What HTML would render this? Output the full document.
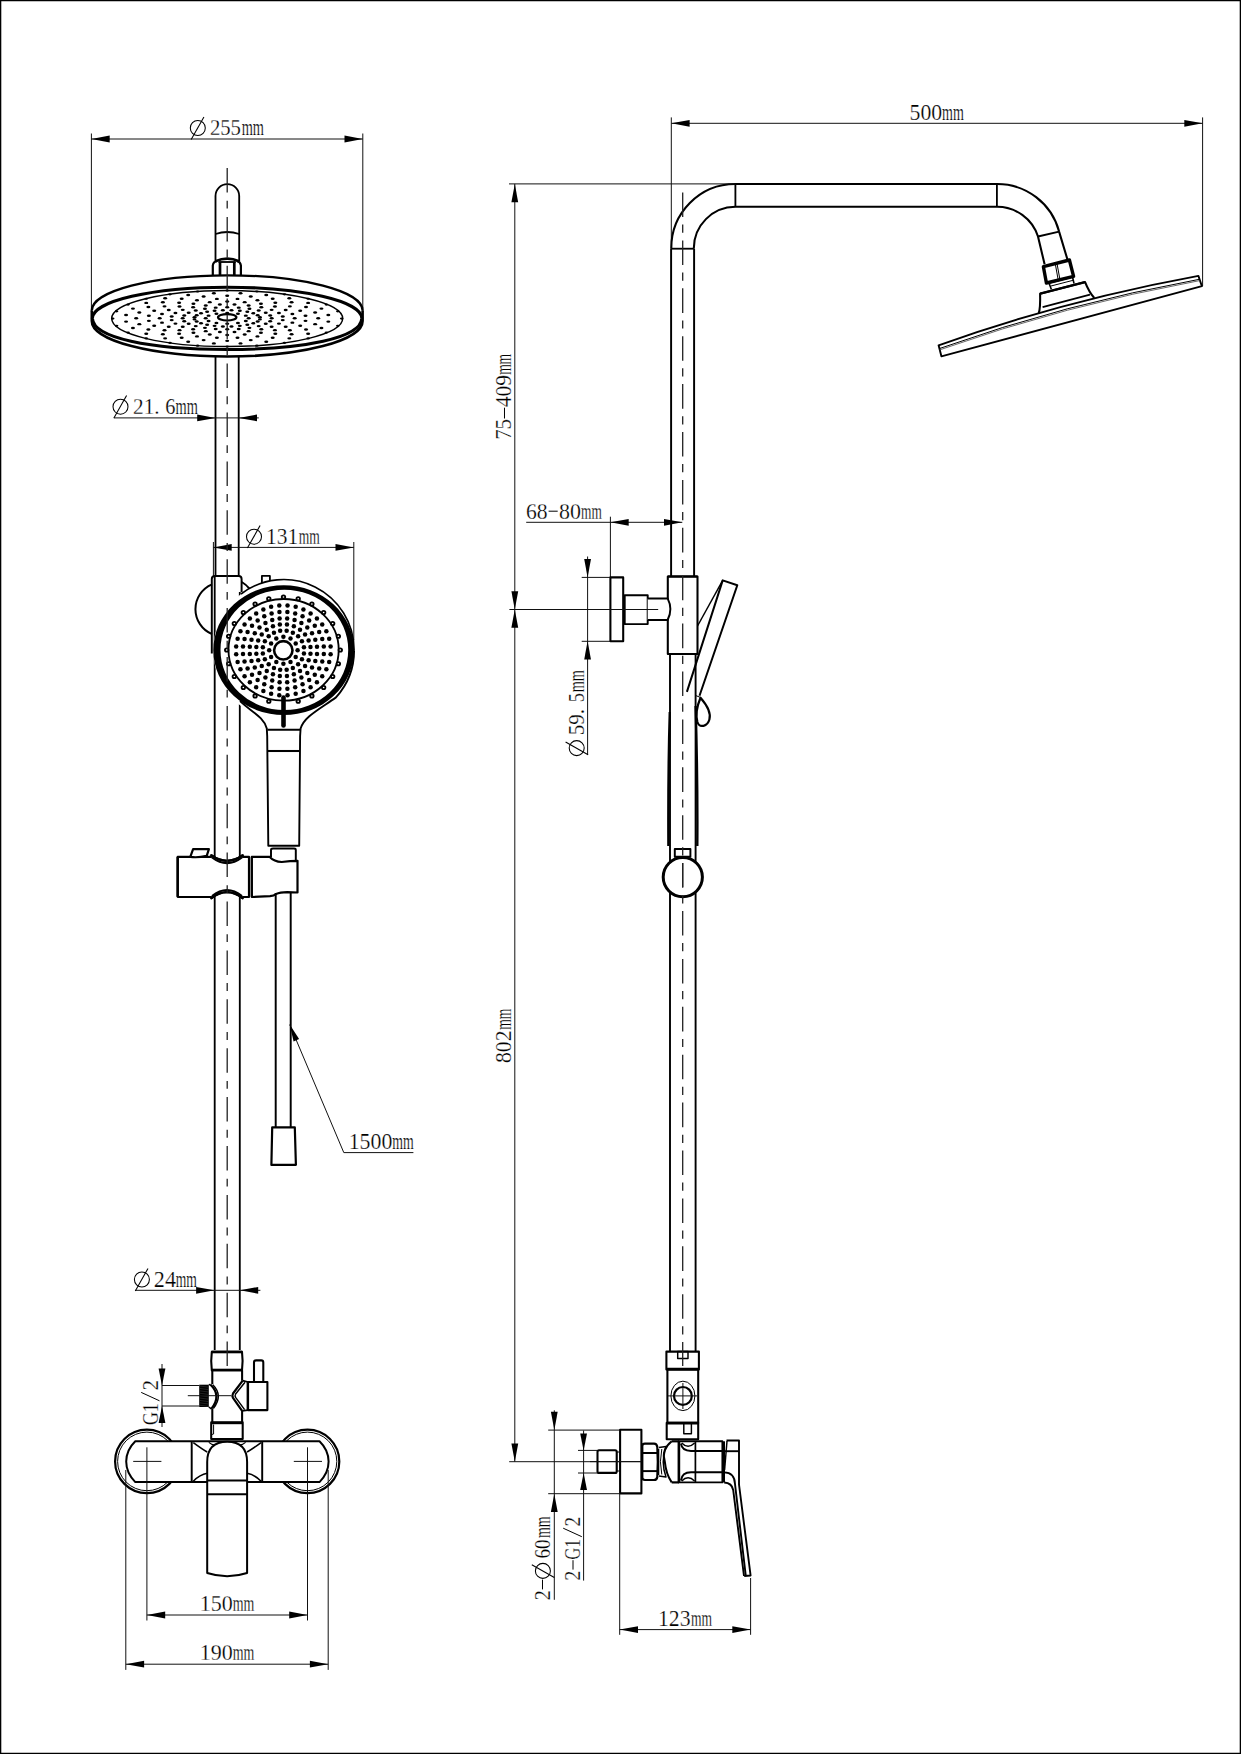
<!DOCTYPE html>
<html><head><meta charset="utf-8"><style>
html,body{margin:0;padding:0;background:#fff;width:1241px;height:1754px;overflow:hidden}
svg{display:block}
text{font-family:"Liberation Serif",serif;fill:#000;stroke:#fff;stroke-width:0.25px}
</style></head><body>
<svg width="1241" height="1754" viewBox="0 0 1241 1754" stroke="#000" fill="none" stroke-linejoin="round">
<rect x="0.6" y="0.6" width="1239.8" height="1752.8" stroke-width="1.4" fill="none"/>
<line x1="91.40" y1="139.00" x2="362.80" y2="139.00" stroke-width="1.0" stroke="#111"/>
<line x1="91.40" y1="133.50" x2="91.40" y2="312.00" stroke-width="1.0" stroke="#111"/>
<line x1="362.80" y1="133.50" x2="362.80" y2="312.00" stroke-width="1.0" stroke="#111"/>
<polygon points="91.40,139.00 109.70,135.60 109.70,142.40" fill="#000" stroke="none"/>
<polygon points="362.80,139.00 344.50,142.40 344.50,135.60" fill="#000" stroke="none"/>
<path d="M215.5,261.5 L215.5,196 A11.85,11.85 0 0 1 239.2,196 L239.2,261.5" stroke-width="1.83" fill="none" />
<path d="M215.5,234 Q227.3,230 239.2,234" stroke-width="1.83" fill="none" />
<path d="M212.8,276 L212.8,265.5 Q213.2,261.8 217,261" stroke-width="2.2" fill="none" />
<path d="M240.9,276 L240.9,265.5 Q240.5,261.8 236.8,261" stroke-width="2.2" fill="none" />
<path d="M215.5,261.2 Q227.3,256.2 239,261.2" stroke-width="2.7" fill="none" />
<line x1="218.50" y1="262.00" x2="235.80" y2="262.00" stroke-width="1.83" />
<line x1="220.00" y1="262.00" x2="220.00" y2="275.00" stroke-width="2.7" />
<line x1="234.30" y1="262.00" x2="234.30" y2="275.00" stroke-width="2.7" />
<path d="M91.8,310.5 A135.4,35.2 0 0 1 362.6,310.5" stroke-width="2.3" fill="none" />
<path d="M91.8,310.5 L91.8,321 A135.4,35.5 0 0 0 362.6,321 L362.6,310.5" stroke-width="2.6" fill="none" />
<path d="M92.4,318.3 A134.6,31.1 0 0 1 361.8,318.3" stroke-width="3.1" fill="none" />
<path d="M92.4,318.3 C93,338 150,349.5 227,349.5 C304,349.5 361.2,338 361.8,318.3" stroke-width="3.1" fill="none" />
<ellipse cx="227.20" cy="318.60" rx="115.50" ry="28.00" stroke-width="1.46" fill="none" />
<ellipse cx="227.20" cy="317.30" rx="9.20" ry="3.20" stroke-width="2.2" fill="none" />
<ellipse cx="248.70" cy="318.30" rx="2.00" ry="1.22" stroke-width="0" fill="#000" stroke="none"/>
<ellipse cx="245.82" cy="320.97" rx="2.00" ry="1.22" stroke-width="0" fill="#000" stroke="none"/>
<ellipse cx="237.95" cy="322.92" rx="2.00" ry="1.22" stroke-width="0" fill="#000" stroke="none"/>
<ellipse cx="227.20" cy="323.63" rx="2.00" ry="1.22" stroke-width="0" fill="#000" stroke="none"/>
<ellipse cx="216.45" cy="322.92" rx="2.00" ry="1.22" stroke-width="0" fill="#000" stroke="none"/>
<ellipse cx="208.58" cy="320.97" rx="2.00" ry="1.22" stroke-width="0" fill="#000" stroke="none"/>
<ellipse cx="205.70" cy="318.30" rx="2.00" ry="1.22" stroke-width="0" fill="#000" stroke="none"/>
<ellipse cx="208.58" cy="315.63" rx="2.00" ry="1.22" stroke-width="0" fill="#000" stroke="none"/>
<ellipse cx="216.45" cy="313.68" rx="2.00" ry="1.22" stroke-width="0" fill="#000" stroke="none"/>
<ellipse cx="227.20" cy="312.97" rx="2.00" ry="1.22" stroke-width="0" fill="#000" stroke="none"/>
<ellipse cx="237.95" cy="313.68" rx="2.00" ry="1.22" stroke-width="0" fill="#000" stroke="none"/>
<ellipse cx="245.82" cy="315.63" rx="2.00" ry="1.22" stroke-width="0" fill="#000" stroke="none"/>
<ellipse cx="259.92" cy="319.37" rx="2.00" ry="1.22" stroke-width="0" fill="#000" stroke="none"/>
<ellipse cx="257.69" cy="321.43" rx="2.00" ry="1.22" stroke-width="0" fill="#000" stroke="none"/>
<ellipse cx="253.38" cy="323.28" rx="2.00" ry="1.22" stroke-width="0" fill="#000" stroke="none"/>
<ellipse cx="247.29" cy="324.79" rx="2.00" ry="1.22" stroke-width="0" fill="#000" stroke="none"/>
<ellipse cx="239.83" cy="325.86" rx="2.00" ry="1.22" stroke-width="0" fill="#000" stroke="none"/>
<ellipse cx="231.51" cy="326.41" rx="2.00" ry="1.22" stroke-width="0" fill="#000" stroke="none"/>
<ellipse cx="222.89" cy="326.41" rx="2.00" ry="1.22" stroke-width="0" fill="#000" stroke="none"/>
<ellipse cx="214.57" cy="325.86" rx="2.00" ry="1.22" stroke-width="0" fill="#000" stroke="none"/>
<ellipse cx="207.11" cy="324.79" rx="2.00" ry="1.22" stroke-width="0" fill="#000" stroke="none"/>
<ellipse cx="201.02" cy="323.28" rx="2.00" ry="1.22" stroke-width="0" fill="#000" stroke="none"/>
<ellipse cx="196.71" cy="321.43" rx="2.00" ry="1.22" stroke-width="0" fill="#000" stroke="none"/>
<ellipse cx="194.48" cy="319.37" rx="2.00" ry="1.22" stroke-width="0" fill="#000" stroke="none"/>
<ellipse cx="194.48" cy="317.23" rx="2.00" ry="1.22" stroke-width="0" fill="#000" stroke="none"/>
<ellipse cx="196.71" cy="315.17" rx="2.00" ry="1.22" stroke-width="0" fill="#000" stroke="none"/>
<ellipse cx="201.02" cy="313.32" rx="2.00" ry="1.22" stroke-width="0" fill="#000" stroke="none"/>
<ellipse cx="207.11" cy="311.81" rx="2.00" ry="1.22" stroke-width="0" fill="#000" stroke="none"/>
<ellipse cx="214.57" cy="310.74" rx="2.00" ry="1.22" stroke-width="0" fill="#000" stroke="none"/>
<ellipse cx="222.89" cy="310.19" rx="2.00" ry="1.22" stroke-width="0" fill="#000" stroke="none"/>
<ellipse cx="231.51" cy="310.19" rx="2.00" ry="1.22" stroke-width="0" fill="#000" stroke="none"/>
<ellipse cx="239.83" cy="310.74" rx="2.00" ry="1.22" stroke-width="0" fill="#000" stroke="none"/>
<ellipse cx="247.29" cy="311.81" rx="2.00" ry="1.22" stroke-width="0" fill="#000" stroke="none"/>
<ellipse cx="253.38" cy="313.32" rx="2.00" ry="1.22" stroke-width="0" fill="#000" stroke="none"/>
<ellipse cx="257.69" cy="315.17" rx="2.00" ry="1.22" stroke-width="0" fill="#000" stroke="none"/>
<ellipse cx="259.92" cy="317.23" rx="2.00" ry="1.22" stroke-width="0" fill="#000" stroke="none"/>
<ellipse cx="271.70" cy="318.30" rx="2.00" ry="1.22" stroke-width="0" fill="#000" stroke="none"/>
<ellipse cx="270.18" cy="321.16" rx="2.00" ry="1.22" stroke-width="0" fill="#000" stroke="none"/>
<ellipse cx="265.74" cy="323.82" rx="2.00" ry="1.22" stroke-width="0" fill="#000" stroke="none"/>
<ellipse cx="258.67" cy="326.10" rx="2.00" ry="1.22" stroke-width="0" fill="#000" stroke="none"/>
<ellipse cx="249.45" cy="327.86" rx="2.00" ry="1.22" stroke-width="0" fill="#000" stroke="none"/>
<ellipse cx="238.72" cy="328.96" rx="2.00" ry="1.22" stroke-width="0" fill="#000" stroke="none"/>
<ellipse cx="227.20" cy="329.34" rx="2.00" ry="1.22" stroke-width="0" fill="#000" stroke="none"/>
<ellipse cx="215.68" cy="328.96" rx="2.00" ry="1.22" stroke-width="0" fill="#000" stroke="none"/>
<ellipse cx="204.95" cy="327.86" rx="2.00" ry="1.22" stroke-width="0" fill="#000" stroke="none"/>
<ellipse cx="195.73" cy="326.10" rx="2.00" ry="1.22" stroke-width="0" fill="#000" stroke="none"/>
<ellipse cx="188.66" cy="323.82" rx="2.00" ry="1.22" stroke-width="0" fill="#000" stroke="none"/>
<ellipse cx="184.22" cy="321.16" rx="2.00" ry="1.22" stroke-width="0" fill="#000" stroke="none"/>
<ellipse cx="182.70" cy="318.30" rx="2.00" ry="1.22" stroke-width="0" fill="#000" stroke="none"/>
<ellipse cx="184.22" cy="315.44" rx="2.00" ry="1.22" stroke-width="0" fill="#000" stroke="none"/>
<ellipse cx="188.66" cy="312.78" rx="2.00" ry="1.22" stroke-width="0" fill="#000" stroke="none"/>
<ellipse cx="195.73" cy="310.50" rx="2.00" ry="1.22" stroke-width="0" fill="#000" stroke="none"/>
<ellipse cx="204.95" cy="308.74" rx="2.00" ry="1.22" stroke-width="0" fill="#000" stroke="none"/>
<ellipse cx="215.68" cy="307.64" rx="2.00" ry="1.22" stroke-width="0" fill="#000" stroke="none"/>
<ellipse cx="227.20" cy="307.26" rx="2.00" ry="1.22" stroke-width="0" fill="#000" stroke="none"/>
<ellipse cx="238.72" cy="307.64" rx="2.00" ry="1.22" stroke-width="0" fill="#000" stroke="none"/>
<ellipse cx="249.45" cy="308.74" rx="2.00" ry="1.22" stroke-width="0" fill="#000" stroke="none"/>
<ellipse cx="258.67" cy="310.50" rx="2.00" ry="1.22" stroke-width="0" fill="#000" stroke="none"/>
<ellipse cx="265.74" cy="312.78" rx="2.00" ry="1.22" stroke-width="0" fill="#000" stroke="none"/>
<ellipse cx="270.18" cy="315.44" rx="2.00" ry="1.22" stroke-width="0" fill="#000" stroke="none"/>
<ellipse cx="282.72" cy="320.11" rx="2.00" ry="1.22" stroke-width="0" fill="#000" stroke="none"/>
<ellipse cx="278.94" cy="323.61" rx="2.00" ry="1.22" stroke-width="0" fill="#000" stroke="none"/>
<ellipse cx="271.63" cy="326.75" rx="2.00" ry="1.22" stroke-width="0" fill="#000" stroke="none"/>
<ellipse cx="261.29" cy="329.32" rx="2.00" ry="1.22" stroke-width="0" fill="#000" stroke="none"/>
<ellipse cx="248.63" cy="331.13" rx="2.00" ry="1.22" stroke-width="0" fill="#000" stroke="none"/>
<ellipse cx="234.51" cy="332.07" rx="2.00" ry="1.22" stroke-width="0" fill="#000" stroke="none"/>
<ellipse cx="219.89" cy="332.07" rx="2.00" ry="1.22" stroke-width="0" fill="#000" stroke="none"/>
<ellipse cx="205.77" cy="331.13" rx="2.00" ry="1.22" stroke-width="0" fill="#000" stroke="none"/>
<ellipse cx="193.11" cy="329.32" rx="2.00" ry="1.22" stroke-width="0" fill="#000" stroke="none"/>
<ellipse cx="182.77" cy="326.75" rx="2.00" ry="1.22" stroke-width="0" fill="#000" stroke="none"/>
<ellipse cx="175.46" cy="323.61" rx="2.00" ry="1.22" stroke-width="0" fill="#000" stroke="none"/>
<ellipse cx="171.68" cy="320.11" rx="2.00" ry="1.22" stroke-width="0" fill="#000" stroke="none"/>
<ellipse cx="171.68" cy="316.49" rx="2.00" ry="1.22" stroke-width="0" fill="#000" stroke="none"/>
<ellipse cx="175.46" cy="312.99" rx="2.00" ry="1.22" stroke-width="0" fill="#000" stroke="none"/>
<ellipse cx="182.77" cy="309.85" rx="2.00" ry="1.22" stroke-width="0" fill="#000" stroke="none"/>
<ellipse cx="193.11" cy="307.28" rx="2.00" ry="1.22" stroke-width="0" fill="#000" stroke="none"/>
<ellipse cx="205.77" cy="305.47" rx="2.00" ry="1.22" stroke-width="0" fill="#000" stroke="none"/>
<ellipse cx="219.89" cy="304.53" rx="2.00" ry="1.22" stroke-width="0" fill="#000" stroke="none"/>
<ellipse cx="234.51" cy="304.53" rx="2.00" ry="1.22" stroke-width="0" fill="#000" stroke="none"/>
<ellipse cx="248.63" cy="305.47" rx="2.00" ry="1.22" stroke-width="0" fill="#000" stroke="none"/>
<ellipse cx="261.29" cy="307.28" rx="2.00" ry="1.22" stroke-width="0" fill="#000" stroke="none"/>
<ellipse cx="271.63" cy="309.85" rx="2.00" ry="1.22" stroke-width="0" fill="#000" stroke="none"/>
<ellipse cx="278.94" cy="312.99" rx="2.00" ry="1.22" stroke-width="0" fill="#000" stroke="none"/>
<ellipse cx="282.72" cy="316.49" rx="2.00" ry="1.22" stroke-width="0" fill="#000" stroke="none"/>
<ellipse cx="294.70" cy="318.30" rx="2.00" ry="1.22" stroke-width="0" fill="#000" stroke="none"/>
<ellipse cx="292.40" cy="322.63" rx="2.00" ry="1.22" stroke-width="0" fill="#000" stroke="none"/>
<ellipse cx="285.66" cy="326.67" rx="2.00" ry="1.22" stroke-width="0" fill="#000" stroke="none"/>
<ellipse cx="274.93" cy="330.14" rx="2.00" ry="1.22" stroke-width="0" fill="#000" stroke="none"/>
<ellipse cx="260.95" cy="332.80" rx="2.00" ry="1.22" stroke-width="0" fill="#000" stroke="none"/>
<ellipse cx="244.67" cy="334.47" rx="2.00" ry="1.22" stroke-width="0" fill="#000" stroke="none"/>
<ellipse cx="227.20" cy="335.04" rx="2.00" ry="1.22" stroke-width="0" fill="#000" stroke="none"/>
<ellipse cx="209.73" cy="334.47" rx="2.00" ry="1.22" stroke-width="0" fill="#000" stroke="none"/>
<ellipse cx="193.45" cy="332.80" rx="2.00" ry="1.22" stroke-width="0" fill="#000" stroke="none"/>
<ellipse cx="179.47" cy="330.14" rx="2.00" ry="1.22" stroke-width="0" fill="#000" stroke="none"/>
<ellipse cx="168.74" cy="326.67" rx="2.00" ry="1.22" stroke-width="0" fill="#000" stroke="none"/>
<ellipse cx="162.00" cy="322.63" rx="2.00" ry="1.22" stroke-width="0" fill="#000" stroke="none"/>
<ellipse cx="159.70" cy="318.30" rx="2.00" ry="1.22" stroke-width="0" fill="#000" stroke="none"/>
<ellipse cx="162.00" cy="313.97" rx="2.00" ry="1.22" stroke-width="0" fill="#000" stroke="none"/>
<ellipse cx="168.74" cy="309.93" rx="2.00" ry="1.22" stroke-width="0" fill="#000" stroke="none"/>
<ellipse cx="179.47" cy="306.46" rx="2.00" ry="1.22" stroke-width="0" fill="#000" stroke="none"/>
<ellipse cx="193.45" cy="303.80" rx="2.00" ry="1.22" stroke-width="0" fill="#000" stroke="none"/>
<ellipse cx="209.73" cy="302.13" rx="2.00" ry="1.22" stroke-width="0" fill="#000" stroke="none"/>
<ellipse cx="227.20" cy="301.56" rx="2.00" ry="1.22" stroke-width="0" fill="#000" stroke="none"/>
<ellipse cx="244.67" cy="302.13" rx="2.00" ry="1.22" stroke-width="0" fill="#000" stroke="none"/>
<ellipse cx="260.95" cy="303.80" rx="2.00" ry="1.22" stroke-width="0" fill="#000" stroke="none"/>
<ellipse cx="274.93" cy="306.46" rx="2.00" ry="1.22" stroke-width="0" fill="#000" stroke="none"/>
<ellipse cx="285.66" cy="309.93" rx="2.00" ry="1.22" stroke-width="0" fill="#000" stroke="none"/>
<ellipse cx="292.40" cy="313.97" rx="2.00" ry="1.22" stroke-width="0" fill="#000" stroke="none"/>
<ellipse cx="305.52" cy="320.86" rx="2.00" ry="1.22" stroke-width="0" fill="#000" stroke="none"/>
<ellipse cx="300.19" cy="325.80" rx="2.00" ry="1.22" stroke-width="0" fill="#000" stroke="none"/>
<ellipse cx="289.87" cy="330.23" rx="2.00" ry="1.22" stroke-width="0" fill="#000" stroke="none"/>
<ellipse cx="275.29" cy="333.84" rx="2.00" ry="1.22" stroke-width="0" fill="#000" stroke="none"/>
<ellipse cx="257.43" cy="336.40" rx="2.00" ry="1.22" stroke-width="0" fill="#000" stroke="none"/>
<ellipse cx="237.51" cy="337.72" rx="2.00" ry="1.22" stroke-width="0" fill="#000" stroke="none"/>
<ellipse cx="216.89" cy="337.72" rx="2.00" ry="1.22" stroke-width="0" fill="#000" stroke="none"/>
<ellipse cx="196.97" cy="336.40" rx="2.00" ry="1.22" stroke-width="0" fill="#000" stroke="none"/>
<ellipse cx="179.11" cy="333.84" rx="2.00" ry="1.22" stroke-width="0" fill="#000" stroke="none"/>
<ellipse cx="164.53" cy="330.23" rx="2.00" ry="1.22" stroke-width="0" fill="#000" stroke="none"/>
<ellipse cx="154.21" cy="325.80" rx="2.00" ry="1.22" stroke-width="0" fill="#000" stroke="none"/>
<ellipse cx="148.88" cy="320.86" rx="2.00" ry="1.22" stroke-width="0" fill="#000" stroke="none"/>
<ellipse cx="148.88" cy="315.74" rx="2.00" ry="1.22" stroke-width="0" fill="#000" stroke="none"/>
<ellipse cx="154.21" cy="310.80" rx="2.00" ry="1.22" stroke-width="0" fill="#000" stroke="none"/>
<ellipse cx="164.53" cy="306.37" rx="2.00" ry="1.22" stroke-width="0" fill="#000" stroke="none"/>
<ellipse cx="179.11" cy="302.76" rx="2.00" ry="1.22" stroke-width="0" fill="#000" stroke="none"/>
<ellipse cx="196.97" cy="300.20" rx="2.00" ry="1.22" stroke-width="0" fill="#000" stroke="none"/>
<ellipse cx="216.89" cy="298.88" rx="2.00" ry="1.22" stroke-width="0" fill="#000" stroke="none"/>
<ellipse cx="237.51" cy="298.88" rx="2.00" ry="1.22" stroke-width="0" fill="#000" stroke="none"/>
<ellipse cx="257.43" cy="300.20" rx="2.00" ry="1.22" stroke-width="0" fill="#000" stroke="none"/>
<ellipse cx="275.29" cy="302.76" rx="2.00" ry="1.22" stroke-width="0" fill="#000" stroke="none"/>
<ellipse cx="289.87" cy="306.37" rx="2.00" ry="1.22" stroke-width="0" fill="#000" stroke="none"/>
<ellipse cx="300.19" cy="310.80" rx="2.00" ry="1.22" stroke-width="0" fill="#000" stroke="none"/>
<ellipse cx="305.52" cy="315.74" rx="2.00" ry="1.22" stroke-width="0" fill="#000" stroke="none"/>
<ellipse cx="318.20" cy="318.30" rx="2.00" ry="1.22" stroke-width="0" fill="#000" stroke="none"/>
<ellipse cx="315.10" cy="324.14" rx="2.00" ry="1.22" stroke-width="0" fill="#000" stroke="none"/>
<ellipse cx="306.01" cy="329.58" rx="2.00" ry="1.22" stroke-width="0" fill="#000" stroke="none"/>
<ellipse cx="291.55" cy="334.26" rx="2.00" ry="1.22" stroke-width="0" fill="#000" stroke="none"/>
<ellipse cx="272.70" cy="337.84" rx="2.00" ry="1.22" stroke-width="0" fill="#000" stroke="none"/>
<ellipse cx="250.75" cy="340.10" rx="2.00" ry="1.22" stroke-width="0" fill="#000" stroke="none"/>
<ellipse cx="227.20" cy="340.87" rx="2.00" ry="1.22" stroke-width="0" fill="#000" stroke="none"/>
<ellipse cx="203.65" cy="340.10" rx="2.00" ry="1.22" stroke-width="0" fill="#000" stroke="none"/>
<ellipse cx="181.70" cy="337.84" rx="2.00" ry="1.22" stroke-width="0" fill="#000" stroke="none"/>
<ellipse cx="162.85" cy="334.26" rx="2.00" ry="1.22" stroke-width="0" fill="#000" stroke="none"/>
<ellipse cx="148.39" cy="329.58" rx="2.00" ry="1.22" stroke-width="0" fill="#000" stroke="none"/>
<ellipse cx="139.30" cy="324.14" rx="2.00" ry="1.22" stroke-width="0" fill="#000" stroke="none"/>
<ellipse cx="136.20" cy="318.30" rx="2.00" ry="1.22" stroke-width="0" fill="#000" stroke="none"/>
<ellipse cx="139.30" cy="312.46" rx="2.00" ry="1.22" stroke-width="0" fill="#000" stroke="none"/>
<ellipse cx="148.39" cy="307.02" rx="2.00" ry="1.22" stroke-width="0" fill="#000" stroke="none"/>
<ellipse cx="162.85" cy="302.34" rx="2.00" ry="1.22" stroke-width="0" fill="#000" stroke="none"/>
<ellipse cx="181.70" cy="298.76" rx="2.00" ry="1.22" stroke-width="0" fill="#000" stroke="none"/>
<ellipse cx="203.65" cy="296.50" rx="2.00" ry="1.22" stroke-width="0" fill="#000" stroke="none"/>
<ellipse cx="227.20" cy="295.73" rx="2.00" ry="1.22" stroke-width="0" fill="#000" stroke="none"/>
<ellipse cx="250.75" cy="296.50" rx="2.00" ry="1.22" stroke-width="0" fill="#000" stroke="none"/>
<ellipse cx="272.70" cy="298.76" rx="2.00" ry="1.22" stroke-width="0" fill="#000" stroke="none"/>
<ellipse cx="291.55" cy="302.34" rx="2.00" ry="1.22" stroke-width="0" fill="#000" stroke="none"/>
<ellipse cx="306.01" cy="307.02" rx="2.00" ry="1.22" stroke-width="0" fill="#000" stroke="none"/>
<ellipse cx="315.10" cy="312.46" rx="2.00" ry="1.22" stroke-width="0" fill="#000" stroke="none"/>
<ellipse cx="328.33" cy="321.60" rx="2.00" ry="1.22" stroke-width="0" fill="#000" stroke="none"/>
<ellipse cx="321.44" cy="327.98" rx="2.00" ry="1.22" stroke-width="0" fill="#000" stroke="none"/>
<ellipse cx="308.12" cy="333.70" rx="2.00" ry="1.22" stroke-width="0" fill="#000" stroke="none"/>
<ellipse cx="289.29" cy="338.37" rx="2.00" ry="1.22" stroke-width="0" fill="#000" stroke="none"/>
<ellipse cx="266.23" cy="341.67" rx="2.00" ry="1.22" stroke-width="0" fill="#000" stroke="none"/>
<ellipse cx="240.51" cy="343.38" rx="2.00" ry="1.22" stroke-width="0" fill="#000" stroke="none"/>
<ellipse cx="213.89" cy="343.38" rx="2.00" ry="1.22" stroke-width="0" fill="#000" stroke="none"/>
<ellipse cx="188.17" cy="341.67" rx="2.00" ry="1.22" stroke-width="0" fill="#000" stroke="none"/>
<ellipse cx="165.11" cy="338.37" rx="2.00" ry="1.22" stroke-width="0" fill="#000" stroke="none"/>
<ellipse cx="146.28" cy="333.70" rx="2.00" ry="1.22" stroke-width="0" fill="#000" stroke="none"/>
<ellipse cx="132.96" cy="327.98" rx="2.00" ry="1.22" stroke-width="0" fill="#000" stroke="none"/>
<ellipse cx="126.07" cy="321.60" rx="2.00" ry="1.22" stroke-width="0" fill="#000" stroke="none"/>
<ellipse cx="126.07" cy="315.00" rx="2.00" ry="1.22" stroke-width="0" fill="#000" stroke="none"/>
<ellipse cx="132.96" cy="308.62" rx="2.00" ry="1.22" stroke-width="0" fill="#000" stroke="none"/>
<ellipse cx="146.28" cy="302.90" rx="2.00" ry="1.22" stroke-width="0" fill="#000" stroke="none"/>
<ellipse cx="165.11" cy="298.23" rx="2.00" ry="1.22" stroke-width="0" fill="#000" stroke="none"/>
<ellipse cx="188.17" cy="294.93" rx="2.00" ry="1.22" stroke-width="0" fill="#000" stroke="none"/>
<ellipse cx="213.89" cy="293.22" rx="2.00" ry="1.22" stroke-width="0" fill="#000" stroke="none"/>
<ellipse cx="240.51" cy="293.22" rx="2.00" ry="1.22" stroke-width="0" fill="#000" stroke="none"/>
<ellipse cx="266.23" cy="294.93" rx="2.00" ry="1.22" stroke-width="0" fill="#000" stroke="none"/>
<ellipse cx="289.29" cy="298.23" rx="2.00" ry="1.22" stroke-width="0" fill="#000" stroke="none"/>
<ellipse cx="308.12" cy="302.90" rx="2.00" ry="1.22" stroke-width="0" fill="#000" stroke="none"/>
<ellipse cx="321.44" cy="308.62" rx="2.00" ry="1.22" stroke-width="0" fill="#000" stroke="none"/>
<ellipse cx="328.33" cy="315.00" rx="2.00" ry="1.22" stroke-width="0" fill="#000" stroke="none"/>
<ellipse cx="341.70" cy="318.60" rx="1.80" ry="1.05" stroke-width="0" fill="#000" stroke="none"/>
<ellipse cx="337.80" cy="325.85" rx="1.80" ry="1.05" stroke-width="0" fill="#000" stroke="none"/>
<ellipse cx="326.36" cy="332.60" rx="1.80" ry="1.05" stroke-width="0" fill="#000" stroke="none"/>
<ellipse cx="308.16" cy="338.40" rx="1.80" ry="1.05" stroke-width="0" fill="#000" stroke="none"/>
<ellipse cx="284.45" cy="342.85" rx="1.80" ry="1.05" stroke-width="0" fill="#000" stroke="none"/>
<ellipse cx="256.83" cy="345.65" rx="1.80" ry="1.05" stroke-width="0" fill="#000" stroke="none"/>
<ellipse cx="227.20" cy="346.60" rx="1.80" ry="1.05" stroke-width="0" fill="#000" stroke="none"/>
<ellipse cx="197.57" cy="345.65" rx="1.80" ry="1.05" stroke-width="0" fill="#000" stroke="none"/>
<ellipse cx="169.95" cy="342.85" rx="1.80" ry="1.05" stroke-width="0" fill="#000" stroke="none"/>
<ellipse cx="146.24" cy="338.40" rx="1.80" ry="1.05" stroke-width="0" fill="#000" stroke="none"/>
<ellipse cx="128.04" cy="332.60" rx="1.80" ry="1.05" stroke-width="0" fill="#000" stroke="none"/>
<ellipse cx="116.60" cy="325.85" rx="1.80" ry="1.05" stroke-width="0" fill="#000" stroke="none"/>
<ellipse cx="112.70" cy="318.60" rx="1.80" ry="1.05" stroke-width="0" fill="#000" stroke="none"/>
<ellipse cx="116.60" cy="311.35" rx="1.80" ry="1.05" stroke-width="0" fill="#000" stroke="none"/>
<ellipse cx="128.04" cy="304.60" rx="1.80" ry="1.05" stroke-width="0" fill="#000" stroke="none"/>
<ellipse cx="146.24" cy="298.80" rx="1.80" ry="1.05" stroke-width="0" fill="#000" stroke="none"/>
<ellipse cx="169.95" cy="294.35" rx="1.80" ry="1.05" stroke-width="0" fill="#000" stroke="none"/>
<ellipse cx="197.57" cy="291.55" rx="1.80" ry="1.05" stroke-width="0" fill="#000" stroke="none"/>
<ellipse cx="227.20" cy="290.60" rx="1.80" ry="1.05" stroke-width="0" fill="#000" stroke="none"/>
<ellipse cx="256.83" cy="291.55" rx="1.80" ry="1.05" stroke-width="0" fill="#000" stroke="none"/>
<ellipse cx="284.45" cy="294.35" rx="1.80" ry="1.05" stroke-width="0" fill="#000" stroke="none"/>
<ellipse cx="308.16" cy="298.80" rx="1.80" ry="1.05" stroke-width="0" fill="#000" stroke="none"/>
<ellipse cx="326.36" cy="304.60" rx="1.80" ry="1.05" stroke-width="0" fill="#000" stroke="none"/>
<ellipse cx="337.80" cy="311.35" rx="1.80" ry="1.05" stroke-width="0" fill="#000" stroke="none"/>
<line x1="215.50" y1="356.00" x2="215.50" y2="576.00" stroke-width="1.83" />
<line x1="238.70" y1="356.00" x2="238.70" y2="576.00" stroke-width="1.83" />
<line x1="113.80" y1="417.90" x2="258.80" y2="417.90" stroke-width="1.0" stroke="#111"/>
<polygon points="215.50,417.90 197.20,421.30 197.20,414.50" fill="#000" stroke="none"/>
<polygon points="238.70,417.90 257.00,414.50 257.00,421.30" fill="#000" stroke="none"/>
<line x1="213.40" y1="547.40" x2="353.80" y2="547.40" stroke-width="1.0" stroke="#111"/>
<line x1="213.40" y1="542.00" x2="213.40" y2="576.00" stroke-width="1.0" stroke="#111"/>
<line x1="353.80" y1="542.00" x2="353.80" y2="640.00" stroke-width="1.0" stroke="#111"/>
<polygon points="213.40,547.40 231.70,544.00 231.70,550.80" fill="#000" stroke="none"/>
<polygon points="353.80,547.40 335.50,550.80 335.50,544.00" fill="#000" stroke="none"/>
<path d="M212,584.3 A27,27 0 0 0 212,634.1" stroke-width="2.0" fill="none" />
<path d="M241.8,582 Q246,584.5 249.8,589" stroke-width="1.95" fill="none" />
<path d="M211.8,653.5 L211.8,579 Q211.8,575.9 215,575.9 L238.6,575.9 Q241.6,575.9 241.6,579 L241.6,592" stroke-width="1.95" fill="none" />
<line x1="214.70" y1="576.00" x2="214.70" y2="1350.00" stroke-width="1.83" />
<line x1="239.80" y1="592.00" x2="239.80" y2="1350.00" stroke-width="1.83" />
<rect x="261.90" y="575.90" width="8.00" height="7.10" rx="0" stroke-width="1.83" fill="none"/>
<path d="M254.2,714.1 C262,720 267.5,724 267.5,736 L267.5,760 L300.1,760 L300.1,736 C300.1,724 305,718 313.2,714.1 A70.4,70.4 0 1 0 254.2,714.1 Z" stroke-width="0" fill="#fff" stroke="none"/>
<path d="M240,701.1 C251,711.5 264,717 266.8,728.5 L267.2,736 L268.3,845.7 L299.2,845.7 L300.1,736 L300.6,728.5 C304,717 318,710 336,697.4 A70.4,70.4 0 0 0 354.1,650.2" stroke-width="1.9" fill="none" />
<path d="M241,594 A70.4,70.4 0 0 1 354.1,650.2" stroke-width="1.59" fill="none" />
<path d="M213.30,650.20 A70.40,64.90 0 1 0 354.10,650.20 A70.40,64.90 0 1 0 213.30,650.20 Z M220.50,649.85 A63.85,60.15 0 1 0 348.20,649.85 A63.85,60.15 0 1 0 220.50,649.85 Z" fill="#000" fill-rule="evenodd" stroke="none"/>
<ellipse cx="283.60" cy="649.80" rx="55.10" ry="50.80" stroke-width="1.83" fill="none" />
<ellipse cx="283.30" cy="650.30" rx="9.20" ry="9.20" stroke-width="2.6" fill="none" />
<ellipse cx="297.60" cy="650.30" rx="2.25" ry="2.25" stroke-width="0" fill="#000" stroke="none"/>
<ellipse cx="295.70" cy="657.04" rx="2.25" ry="2.25" stroke-width="0" fill="#000" stroke="none"/>
<ellipse cx="290.50" cy="661.98" rx="2.25" ry="2.25" stroke-width="0" fill="#000" stroke="none"/>
<ellipse cx="283.40" cy="663.79" rx="2.25" ry="2.25" stroke-width="0" fill="#000" stroke="none"/>
<ellipse cx="276.30" cy="661.98" rx="2.25" ry="2.25" stroke-width="0" fill="#000" stroke="none"/>
<ellipse cx="271.10" cy="657.04" rx="2.25" ry="2.25" stroke-width="0" fill="#000" stroke="none"/>
<ellipse cx="269.20" cy="650.30" rx="2.25" ry="2.25" stroke-width="0" fill="#000" stroke="none"/>
<ellipse cx="271.10" cy="643.55" rx="2.25" ry="2.25" stroke-width="0" fill="#000" stroke="none"/>
<ellipse cx="276.30" cy="638.62" rx="2.25" ry="2.25" stroke-width="0" fill="#000" stroke="none"/>
<ellipse cx="283.40" cy="636.81" rx="2.25" ry="2.25" stroke-width="0" fill="#000" stroke="none"/>
<ellipse cx="290.50" cy="638.62" rx="2.25" ry="2.25" stroke-width="0" fill="#000" stroke="none"/>
<ellipse cx="295.70" cy="643.55" rx="2.25" ry="2.25" stroke-width="0" fill="#000" stroke="none"/>
<ellipse cx="303.94" cy="653.39" rx="2.25" ry="2.25" stroke-width="0" fill="#000" stroke="none"/>
<ellipse cx="301.93" cy="659.27" rx="2.25" ry="2.25" stroke-width="0" fill="#000" stroke="none"/>
<ellipse cx="298.11" cy="664.27" rx="2.25" ry="2.25" stroke-width="0" fill="#000" stroke="none"/>
<ellipse cx="292.84" cy="667.91" rx="2.25" ry="2.25" stroke-width="0" fill="#000" stroke="none"/>
<ellipse cx="286.65" cy="669.82" rx="2.25" ry="2.25" stroke-width="0" fill="#000" stroke="none"/>
<ellipse cx="280.15" cy="669.82" rx="2.25" ry="2.25" stroke-width="0" fill="#000" stroke="none"/>
<ellipse cx="273.96" cy="667.91" rx="2.25" ry="2.25" stroke-width="0" fill="#000" stroke="none"/>
<ellipse cx="268.69" cy="664.27" rx="2.25" ry="2.25" stroke-width="0" fill="#000" stroke="none"/>
<ellipse cx="264.87" cy="659.27" rx="2.25" ry="2.25" stroke-width="0" fill="#000" stroke="none"/>
<ellipse cx="262.86" cy="653.39" rx="2.25" ry="2.25" stroke-width="0" fill="#000" stroke="none"/>
<ellipse cx="262.86" cy="647.21" rx="2.25" ry="2.25" stroke-width="0" fill="#000" stroke="none"/>
<ellipse cx="264.87" cy="641.33" rx="2.25" ry="2.25" stroke-width="0" fill="#000" stroke="none"/>
<ellipse cx="268.69" cy="636.33" rx="2.25" ry="2.25" stroke-width="0" fill="#000" stroke="none"/>
<ellipse cx="273.96" cy="632.69" rx="2.25" ry="2.25" stroke-width="0" fill="#000" stroke="none"/>
<ellipse cx="280.15" cy="630.78" rx="2.25" ry="2.25" stroke-width="0" fill="#000" stroke="none"/>
<ellipse cx="286.65" cy="630.78" rx="2.25" ry="2.25" stroke-width="0" fill="#000" stroke="none"/>
<ellipse cx="292.84" cy="632.69" rx="2.25" ry="2.25" stroke-width="0" fill="#000" stroke="none"/>
<ellipse cx="298.11" cy="636.33" rx="2.25" ry="2.25" stroke-width="0" fill="#000" stroke="none"/>
<ellipse cx="301.93" cy="641.33" rx="2.25" ry="2.25" stroke-width="0" fill="#000" stroke="none"/>
<ellipse cx="303.94" cy="647.21" rx="2.25" ry="2.25" stroke-width="0" fill="#000" stroke="none"/>
<ellipse cx="310.47" cy="653.69" rx="2.25" ry="2.25" stroke-width="0" fill="#000" stroke="none"/>
<ellipse cx="308.62" cy="660.22" rx="2.25" ry="2.25" stroke-width="0" fill="#000" stroke="none"/>
<ellipse cx="305.06" cy="666.09" rx="2.25" ry="2.25" stroke-width="0" fill="#000" stroke="none"/>
<ellipse cx="300.02" cy="670.88" rx="2.25" ry="2.25" stroke-width="0" fill="#000" stroke="none"/>
<ellipse cx="293.85" cy="674.26" rx="2.25" ry="2.25" stroke-width="0" fill="#000" stroke="none"/>
<ellipse cx="286.96" cy="676.01" rx="2.25" ry="2.25" stroke-width="0" fill="#000" stroke="none"/>
<ellipse cx="279.84" cy="676.01" rx="2.25" ry="2.25" stroke-width="0" fill="#000" stroke="none"/>
<ellipse cx="272.95" cy="674.26" rx="2.25" ry="2.25" stroke-width="0" fill="#000" stroke="none"/>
<ellipse cx="266.78" cy="670.88" rx="2.25" ry="2.25" stroke-width="0" fill="#000" stroke="none"/>
<ellipse cx="261.74" cy="666.09" rx="2.25" ry="2.25" stroke-width="0" fill="#000" stroke="none"/>
<ellipse cx="258.18" cy="660.22" rx="2.25" ry="2.25" stroke-width="0" fill="#000" stroke="none"/>
<ellipse cx="256.33" cy="653.69" rx="2.25" ry="2.25" stroke-width="0" fill="#000" stroke="none"/>
<ellipse cx="256.33" cy="646.91" rx="2.25" ry="2.25" stroke-width="0" fill="#000" stroke="none"/>
<ellipse cx="258.18" cy="640.38" rx="2.25" ry="2.25" stroke-width="0" fill="#000" stroke="none"/>
<ellipse cx="261.74" cy="634.51" rx="2.25" ry="2.25" stroke-width="0" fill="#000" stroke="none"/>
<ellipse cx="266.78" cy="629.72" rx="2.25" ry="2.25" stroke-width="0" fill="#000" stroke="none"/>
<ellipse cx="272.95" cy="626.34" rx="2.25" ry="2.25" stroke-width="0" fill="#000" stroke="none"/>
<ellipse cx="279.84" cy="624.59" rx="2.25" ry="2.25" stroke-width="0" fill="#000" stroke="none"/>
<ellipse cx="286.96" cy="624.59" rx="2.25" ry="2.25" stroke-width="0" fill="#000" stroke="none"/>
<ellipse cx="293.85" cy="626.34" rx="2.25" ry="2.25" stroke-width="0" fill="#000" stroke="none"/>
<ellipse cx="300.02" cy="629.72" rx="2.25" ry="2.25" stroke-width="0" fill="#000" stroke="none"/>
<ellipse cx="305.06" cy="634.51" rx="2.25" ry="2.25" stroke-width="0" fill="#000" stroke="none"/>
<ellipse cx="308.62" cy="640.38" rx="2.25" ry="2.25" stroke-width="0" fill="#000" stroke="none"/>
<ellipse cx="310.47" cy="646.91" rx="2.25" ry="2.25" stroke-width="0" fill="#000" stroke="none"/>
<ellipse cx="316.99" cy="653.90" rx="2.25" ry="2.25" stroke-width="0" fill="#000" stroke="none"/>
<ellipse cx="315.30" cy="660.91" rx="2.25" ry="2.25" stroke-width="0" fill="#000" stroke="none"/>
<ellipse cx="312.02" cy="667.38" rx="2.25" ry="2.25" stroke-width="0" fill="#000" stroke="none"/>
<ellipse cx="307.30" cy="673.01" rx="2.25" ry="2.25" stroke-width="0" fill="#000" stroke="none"/>
<ellipse cx="301.38" cy="677.49" rx="2.25" ry="2.25" stroke-width="0" fill="#000" stroke="none"/>
<ellipse cx="294.56" cy="680.61" rx="2.25" ry="2.25" stroke-width="0" fill="#000" stroke="none"/>
<ellipse cx="287.18" cy="682.21" rx="2.25" ry="2.25" stroke-width="0" fill="#000" stroke="none"/>
<ellipse cx="279.62" cy="682.21" rx="2.25" ry="2.25" stroke-width="0" fill="#000" stroke="none"/>
<ellipse cx="272.24" cy="680.61" rx="2.25" ry="2.25" stroke-width="0" fill="#000" stroke="none"/>
<ellipse cx="265.42" cy="677.49" rx="2.25" ry="2.25" stroke-width="0" fill="#000" stroke="none"/>
<ellipse cx="259.50" cy="673.01" rx="2.25" ry="2.25" stroke-width="0" fill="#000" stroke="none"/>
<ellipse cx="254.78" cy="667.38" rx="2.25" ry="2.25" stroke-width="0" fill="#000" stroke="none"/>
<ellipse cx="251.50" cy="660.91" rx="2.25" ry="2.25" stroke-width="0" fill="#000" stroke="none"/>
<ellipse cx="249.81" cy="653.90" rx="2.25" ry="2.25" stroke-width="0" fill="#000" stroke="none"/>
<ellipse cx="249.81" cy="646.70" rx="2.25" ry="2.25" stroke-width="0" fill="#000" stroke="none"/>
<ellipse cx="251.50" cy="639.69" rx="2.25" ry="2.25" stroke-width="0" fill="#000" stroke="none"/>
<ellipse cx="254.78" cy="633.22" rx="2.25" ry="2.25" stroke-width="0" fill="#000" stroke="none"/>
<ellipse cx="259.50" cy="627.59" rx="2.25" ry="2.25" stroke-width="0" fill="#000" stroke="none"/>
<ellipse cx="265.42" cy="623.11" rx="2.25" ry="2.25" stroke-width="0" fill="#000" stroke="none"/>
<ellipse cx="272.24" cy="619.99" rx="2.25" ry="2.25" stroke-width="0" fill="#000" stroke="none"/>
<ellipse cx="279.62" cy="618.39" rx="2.25" ry="2.25" stroke-width="0" fill="#000" stroke="none"/>
<ellipse cx="287.18" cy="618.39" rx="2.25" ry="2.25" stroke-width="0" fill="#000" stroke="none"/>
<ellipse cx="294.56" cy="619.99" rx="2.25" ry="2.25" stroke-width="0" fill="#000" stroke="none"/>
<ellipse cx="301.38" cy="623.11" rx="2.25" ry="2.25" stroke-width="0" fill="#000" stroke="none"/>
<ellipse cx="307.30" cy="627.59" rx="2.25" ry="2.25" stroke-width="0" fill="#000" stroke="none"/>
<ellipse cx="312.02" cy="633.22" rx="2.25" ry="2.25" stroke-width="0" fill="#000" stroke="none"/>
<ellipse cx="315.30" cy="639.69" rx="2.25" ry="2.25" stroke-width="0" fill="#000" stroke="none"/>
<ellipse cx="316.99" cy="646.70" rx="2.25" ry="2.25" stroke-width="0" fill="#000" stroke="none"/>
<ellipse cx="323.80" cy="654.08" rx="2.25" ry="2.25" stroke-width="0" fill="#000" stroke="none"/>
<ellipse cx="322.25" cy="661.50" rx="2.25" ry="2.25" stroke-width="0" fill="#000" stroke="none"/>
<ellipse cx="319.21" cy="668.48" rx="2.25" ry="2.25" stroke-width="0" fill="#000" stroke="none"/>
<ellipse cx="314.78" cy="674.77" rx="2.25" ry="2.25" stroke-width="0" fill="#000" stroke="none"/>
<ellipse cx="309.16" cy="680.12" rx="2.25" ry="2.25" stroke-width="0" fill="#000" stroke="none"/>
<ellipse cx="302.54" cy="684.32" rx="2.25" ry="2.25" stroke-width="0" fill="#000" stroke="none"/>
<ellipse cx="295.19" cy="687.21" rx="2.25" ry="2.25" stroke-width="0" fill="#000" stroke="none"/>
<ellipse cx="287.38" cy="688.68" rx="2.25" ry="2.25" stroke-width="0" fill="#000" stroke="none"/>
<ellipse cx="279.42" cy="688.68" rx="2.25" ry="2.25" stroke-width="0" fill="#000" stroke="none"/>
<ellipse cx="271.61" cy="687.21" rx="2.25" ry="2.25" stroke-width="0" fill="#000" stroke="none"/>
<ellipse cx="264.26" cy="684.32" rx="2.25" ry="2.25" stroke-width="0" fill="#000" stroke="none"/>
<ellipse cx="257.64" cy="680.12" rx="2.25" ry="2.25" stroke-width="0" fill="#000" stroke="none"/>
<ellipse cx="252.02" cy="674.77" rx="2.25" ry="2.25" stroke-width="0" fill="#000" stroke="none"/>
<ellipse cx="247.59" cy="668.48" rx="2.25" ry="2.25" stroke-width="0" fill="#000" stroke="none"/>
<ellipse cx="244.55" cy="661.50" rx="2.25" ry="2.25" stroke-width="0" fill="#000" stroke="none"/>
<ellipse cx="243.00" cy="654.08" rx="2.25" ry="2.25" stroke-width="0" fill="#000" stroke="none"/>
<ellipse cx="243.00" cy="646.52" rx="2.25" ry="2.25" stroke-width="0" fill="#000" stroke="none"/>
<ellipse cx="244.55" cy="639.10" rx="2.25" ry="2.25" stroke-width="0" fill="#000" stroke="none"/>
<ellipse cx="247.59" cy="632.12" rx="2.25" ry="2.25" stroke-width="0" fill="#000" stroke="none"/>
<ellipse cx="252.02" cy="625.83" rx="2.25" ry="2.25" stroke-width="0" fill="#000" stroke="none"/>
<ellipse cx="257.64" cy="620.48" rx="2.25" ry="2.25" stroke-width="0" fill="#000" stroke="none"/>
<ellipse cx="264.26" cy="616.28" rx="2.25" ry="2.25" stroke-width="0" fill="#000" stroke="none"/>
<ellipse cx="271.61" cy="613.39" rx="2.25" ry="2.25" stroke-width="0" fill="#000" stroke="none"/>
<ellipse cx="279.42" cy="611.92" rx="2.25" ry="2.25" stroke-width="0" fill="#000" stroke="none"/>
<ellipse cx="287.38" cy="611.92" rx="2.25" ry="2.25" stroke-width="0" fill="#000" stroke="none"/>
<ellipse cx="295.19" cy="613.39" rx="2.25" ry="2.25" stroke-width="0" fill="#000" stroke="none"/>
<ellipse cx="302.54" cy="616.28" rx="2.25" ry="2.25" stroke-width="0" fill="#000" stroke="none"/>
<ellipse cx="309.16" cy="620.48" rx="2.25" ry="2.25" stroke-width="0" fill="#000" stroke="none"/>
<ellipse cx="314.78" cy="625.83" rx="2.25" ry="2.25" stroke-width="0" fill="#000" stroke="none"/>
<ellipse cx="319.21" cy="632.12" rx="2.25" ry="2.25" stroke-width="0" fill="#000" stroke="none"/>
<ellipse cx="322.25" cy="639.10" rx="2.25" ry="2.25" stroke-width="0" fill="#000" stroke="none"/>
<ellipse cx="323.80" cy="646.52" rx="2.25" ry="2.25" stroke-width="0" fill="#000" stroke="none"/>
<ellipse cx="330.62" cy="654.22" rx="2.25" ry="2.25" stroke-width="0" fill="#000" stroke="none"/>
<ellipse cx="329.18" cy="661.95" rx="2.25" ry="2.25" stroke-width="0" fill="#000" stroke="none"/>
<ellipse cx="326.36" cy="669.33" rx="2.25" ry="2.25" stroke-width="0" fill="#000" stroke="none"/>
<ellipse cx="322.23" cy="676.13" rx="2.25" ry="2.25" stroke-width="0" fill="#000" stroke="none"/>
<ellipse cx="316.92" cy="682.14" rx="2.25" ry="2.25" stroke-width="0" fill="#000" stroke="none"/>
<ellipse cx="310.59" cy="687.19" rx="2.25" ry="2.25" stroke-width="0" fill="#000" stroke="none"/>
<ellipse cx="303.43" cy="691.11" rx="2.25" ry="2.25" stroke-width="0" fill="#000" stroke="none"/>
<ellipse cx="295.67" cy="693.80" rx="2.25" ry="2.25" stroke-width="0" fill="#000" stroke="none"/>
<ellipse cx="287.53" cy="695.16" rx="2.25" ry="2.25" stroke-width="0" fill="#000" stroke="none"/>
<ellipse cx="279.27" cy="695.16" rx="2.25" ry="2.25" stroke-width="0" fill="#000" stroke="none"/>
<ellipse cx="271.13" cy="693.80" rx="2.25" ry="2.25" stroke-width="0" fill="#000" stroke="none"/>
<ellipse cx="263.37" cy="691.11" rx="2.25" ry="2.25" stroke-width="0" fill="#000" stroke="none"/>
<ellipse cx="256.21" cy="687.19" rx="2.25" ry="2.25" stroke-width="0" fill="#000" stroke="none"/>
<ellipse cx="249.88" cy="682.14" rx="2.25" ry="2.25" stroke-width="0" fill="#000" stroke="none"/>
<ellipse cx="244.57" cy="676.13" rx="2.25" ry="2.25" stroke-width="0" fill="#000" stroke="none"/>
<ellipse cx="240.44" cy="669.33" rx="2.25" ry="2.25" stroke-width="0" fill="#000" stroke="none"/>
<ellipse cx="237.62" cy="661.95" rx="2.25" ry="2.25" stroke-width="0" fill="#000" stroke="none"/>
<ellipse cx="236.18" cy="654.22" rx="2.25" ry="2.25" stroke-width="0" fill="#000" stroke="none"/>
<ellipse cx="236.18" cy="646.38" rx="2.25" ry="2.25" stroke-width="0" fill="#000" stroke="none"/>
<ellipse cx="237.62" cy="638.65" rx="2.25" ry="2.25" stroke-width="0" fill="#000" stroke="none"/>
<ellipse cx="240.44" cy="631.27" rx="2.25" ry="2.25" stroke-width="0" fill="#000" stroke="none"/>
<ellipse cx="244.57" cy="624.47" rx="2.25" ry="2.25" stroke-width="0" fill="#000" stroke="none"/>
<ellipse cx="249.88" cy="618.46" rx="2.25" ry="2.25" stroke-width="0" fill="#000" stroke="none"/>
<ellipse cx="256.21" cy="613.41" rx="2.25" ry="2.25" stroke-width="0" fill="#000" stroke="none"/>
<ellipse cx="263.37" cy="609.49" rx="2.25" ry="2.25" stroke-width="0" fill="#000" stroke="none"/>
<ellipse cx="271.13" cy="606.80" rx="2.25" ry="2.25" stroke-width="0" fill="#000" stroke="none"/>
<ellipse cx="279.27" cy="605.44" rx="2.25" ry="2.25" stroke-width="0" fill="#000" stroke="none"/>
<ellipse cx="287.53" cy="605.44" rx="2.25" ry="2.25" stroke-width="0" fill="#000" stroke="none"/>
<ellipse cx="295.67" cy="606.80" rx="2.25" ry="2.25" stroke-width="0" fill="#000" stroke="none"/>
<ellipse cx="303.43" cy="609.49" rx="2.25" ry="2.25" stroke-width="0" fill="#000" stroke="none"/>
<ellipse cx="310.59" cy="613.41" rx="2.25" ry="2.25" stroke-width="0" fill="#000" stroke="none"/>
<ellipse cx="316.92" cy="618.46" rx="2.25" ry="2.25" stroke-width="0" fill="#000" stroke="none"/>
<ellipse cx="322.23" cy="624.47" rx="2.25" ry="2.25" stroke-width="0" fill="#000" stroke="none"/>
<ellipse cx="326.36" cy="631.27" rx="2.25" ry="2.25" stroke-width="0" fill="#000" stroke="none"/>
<ellipse cx="329.18" cy="638.65" rx="2.25" ry="2.25" stroke-width="0" fill="#000" stroke="none"/>
<ellipse cx="330.62" cy="646.38" rx="2.25" ry="2.25" stroke-width="0" fill="#000" stroke="none"/>
<ellipse cx="340.30" cy="650.00" rx="1.75" ry="1.65" stroke-width="1.83" fill="#fff" />
<ellipse cx="338.36" cy="663.72" rx="1.75" ry="1.65" stroke-width="1.83" fill="#fff" />
<ellipse cx="332.69" cy="676.50" rx="1.75" ry="1.65" stroke-width="1.83" fill="#fff" />
<ellipse cx="323.66" cy="687.48" rx="1.75" ry="1.65" stroke-width="1.83" fill="#fff" />
<ellipse cx="311.90" cy="695.90" rx="1.75" ry="1.65" stroke-width="1.83" fill="#fff" />
<ellipse cx="298.20" cy="701.19" rx="1.75" ry="1.65" stroke-width="1.83" fill="#fff" />
<ellipse cx="268.80" cy="701.19" rx="1.75" ry="1.65" stroke-width="1.83" fill="#fff" />
<ellipse cx="255.10" cy="695.90" rx="1.75" ry="1.65" stroke-width="1.83" fill="#fff" />
<ellipse cx="243.34" cy="687.48" rx="1.75" ry="1.65" stroke-width="1.83" fill="#fff" />
<ellipse cx="234.31" cy="676.50" rx="1.75" ry="1.65" stroke-width="1.83" fill="#fff" />
<ellipse cx="228.64" cy="663.72" rx="1.75" ry="1.65" stroke-width="1.83" fill="#fff" />
<ellipse cx="226.70" cy="650.00" rx="1.75" ry="1.65" stroke-width="1.83" fill="#fff" />
<ellipse cx="228.64" cy="636.28" rx="1.75" ry="1.65" stroke-width="1.83" fill="#fff" />
<ellipse cx="234.31" cy="623.50" rx="1.75" ry="1.65" stroke-width="1.83" fill="#fff" />
<ellipse cx="243.34" cy="612.52" rx="1.75" ry="1.65" stroke-width="1.83" fill="#fff" />
<ellipse cx="255.10" cy="604.10" rx="1.75" ry="1.65" stroke-width="1.83" fill="#fff" />
<ellipse cx="268.80" cy="598.81" rx="1.75" ry="1.65" stroke-width="1.83" fill="#fff" />
<ellipse cx="283.50" cy="597.00" rx="1.75" ry="1.65" stroke-width="1.83" fill="#fff" />
<ellipse cx="298.20" cy="598.81" rx="1.75" ry="1.65" stroke-width="1.83" fill="#fff" />
<ellipse cx="311.90" cy="604.10" rx="1.75" ry="1.65" stroke-width="1.83" fill="#fff" />
<ellipse cx="323.66" cy="612.52" rx="1.75" ry="1.65" stroke-width="1.83" fill="#fff" />
<ellipse cx="332.69" cy="623.50" rx="1.75" ry="1.65" stroke-width="1.83" fill="#fff" />
<ellipse cx="338.36" cy="636.28" rx="1.75" ry="1.65" stroke-width="1.83" fill="#fff" />
<line x1="283.50" y1="697.50" x2="283.50" y2="725.50" stroke-width="4.6" stroke-linecap="round"/>
<line x1="267.50" y1="729.80" x2="300.10" y2="729.80" stroke-width="2.07" />
<line x1="268.00" y1="751.00" x2="299.80" y2="751.00" stroke-width="2.07" />
<path d="M177.7,896.8 L177.7,856.9 L211.2,856.9 L211.2,855.2 Q227,866.5 242.8,855.2 L242.8,856.9 L249,856.9 L249,897 L242.8,897 L242.8,898.3 Q227,886 211.2,898.3 L211.2,897 Z" stroke-width="2.2" fill="#fff" />
<path d="M177.7,856.9 L177.7,896.8" stroke-width="2.4" fill="none" />
<path d="M211.2,855.2 Q227,866.5 242.8,855.2" stroke-width="2.2" fill="none" />
<path d="M212,857.5 Q227,868.8 242,857.5" stroke-width="2.0" fill="none" />
<path d="M211.2,898.3 Q227,886 242.8,898.3" stroke-width="2.2" fill="none" />
<path d="M212,896 Q227,884 242,896" stroke-width="2.0" fill="none" />
<path d="M190.3,856.9 L193.1,849.2 L208.9,849.2 L206.7,855.8 Q198,858 190.3,856.9" stroke-width="2.2" fill="#fff" />
<path d="M251.8,856.9 L269.8,856.9 Q274,861.5 281.7,862 Q287,861.5 290,861.2 L297.5,860.9 L297.5,892.5 L287.3,892.2 Q280,892.5 276,894 Q274,895.8 270,896.2 L251.8,897 Z" stroke-width="2.2" fill="#fff" />
<line x1="249.00" y1="856.90" x2="249.00" y2="897.00" stroke-width="1.83" />
<line x1="251.80" y1="856.90" x2="251.80" y2="897.00" stroke-width="1.83" />
<path d="M271,856.9 L271,850 Q271,848.5 273,848.5 L294,848.5 Q295.8,848.5 295.8,850 L295.8,860.9" stroke-width="1.95" fill="none" />
<line x1="275.70" y1="893.00" x2="275.70" y2="1127.30" stroke-width="1.95" />
<line x1="290.70" y1="893.00" x2="290.70" y2="1127.30" stroke-width="1.95" />
<polygon points="272.20,1127.30 294.80,1127.30 295.90,1164.90 271.40,1164.90" stroke-width="2.2" fill="none" />
<line x1="343.80" y1="1152.60" x2="413.40" y2="1152.60" stroke-width="1.0" stroke="#111"/>
<line x1="343.80" y1="1152.60" x2="289.70" y2="1024.60" stroke-width="1.0" stroke="#111"/>
<polygon points="289.70,1024.60 299.11,1039.08 293.58,1041.42" fill="#000" stroke="none"/>
<line x1="135.10" y1="1290.30" x2="260.40" y2="1290.30" stroke-width="1.0" stroke="#111"/>
<polygon points="214.40,1290.30 196.10,1293.70 196.10,1286.90" fill="#000" stroke="none"/>
<polygon points="239.90,1290.30 258.20,1286.90 258.20,1293.70" fill="#000" stroke="none"/>
<path d="M211.8,1351.8 L242,1351.8 Q243.2,1361 242,1370.3 L211.8,1370.3 Q210.6,1361 211.8,1351.8 Z" stroke-width="2.07" fill="#fff" />
<line x1="211.50" y1="1352.00" x2="242.30" y2="1352.00" stroke-width="2.6" />
<line x1="211.50" y1="1370.00" x2="242.30" y2="1370.00" stroke-width="2.6" />
<line x1="212.30" y1="1370.30" x2="212.30" y2="1384.20" stroke-width="2.07" />
<line x1="242.10" y1="1370.30" x2="242.10" y2="1380.60" stroke-width="2.07" />
<line x1="212.30" y1="1408.90" x2="212.30" y2="1422.40" stroke-width="2.07" />
<line x1="242.10" y1="1410.80" x2="242.10" y2="1422.40" stroke-width="2.07" />
<path d="M210.3,1384.5 Q222.1,1395.7 211.3,1408.9" stroke-width="2.2" fill="none" />
<path d="M212.8,1384.8 Q223.6,1395.7 213.3,1408.5" stroke-width="1.46" fill="none" />
<path d="M242.7,1380.6 L233,1393.5 Q231.8,1395.7 233,1397.9 L242.1,1410.8" stroke-width="2.2" fill="none" />
<path d="M245,1382.2 L235.6,1394 Q234.6,1395.7 235.6,1397.4 L244.6,1409.6" stroke-width="1.46" fill="none" />
<rect x="199.2" y="1384.7" width="9.6" height="22.3" fill="#000" stroke="none"/>
<line x1="199.5" y1="1386.0" x2="208.5" y2="1387.2" stroke="#444" stroke-width="0.5"/>
<line x1="199.5" y1="1388.4" x2="208.5" y2="1389.6" stroke="#444" stroke-width="0.5"/>
<line x1="199.5" y1="1390.8" x2="208.5" y2="1392.0" stroke="#444" stroke-width="0.5"/>
<line x1="199.5" y1="1393.2" x2="208.5" y2="1394.4" stroke="#444" stroke-width="0.5"/>
<line x1="199.5" y1="1395.6" x2="208.5" y2="1396.8" stroke="#444" stroke-width="0.5"/>
<line x1="199.5" y1="1398.0" x2="208.5" y2="1399.2" stroke="#444" stroke-width="0.5"/>
<line x1="199.5" y1="1400.4" x2="208.5" y2="1401.6" stroke="#444" stroke-width="0.5"/>
<line x1="199.5" y1="1402.8" x2="208.5" y2="1404.0" stroke="#444" stroke-width="0.5"/>
<line x1="199.5" y1="1405.2" x2="208.5" y2="1406.4" stroke="#444" stroke-width="0.5"/>
<line x1="208.80" y1="1384.70" x2="210.30" y2="1384.50" stroke-width="1.46" />
<line x1="208.80" y1="1407.00" x2="211.30" y2="1408.90" stroke-width="1.46" />
<path d="M247.9,1382 L267.4,1382 L267.4,1410.1 L247.9,1410.1 Z" stroke-width="2.07" fill="#fff" />
<line x1="247.90" y1="1382.00" x2="247.90" y2="1410.10" stroke-width="2.4" />
<line x1="242.70" y1="1380.60" x2="247.90" y2="1382.00" stroke-width="1.71" />
<line x1="242.10" y1="1410.80" x2="247.90" y2="1410.10" stroke-width="1.71" />
<path d="M254,1382 L254,1362.5 Q254,1360.4 256,1360.4 L261.3,1360.4 Q263.3,1360.4 263.3,1362.5 L263.3,1382" stroke-width="2.07" fill="none" />
<line x1="187.80" y1="1395.70" x2="231.10" y2="1395.70" stroke-width="1.0" stroke="#111"/>
<rect x="211.20" y="1422.40" width="31.50" height="16.60" rx="0" stroke-width="2.07" fill="#fff"/>
<line x1="211.20" y1="1423.00" x2="242.70" y2="1423.00" stroke-width="2.4" />
<path d="M213.6,1424.5 L213.6,1434 L211.8,1434.5" stroke-width="1.0" fill="none" />
<line x1="162.00" y1="1364.00" x2="162.00" y2="1427.00" stroke-width="1.0" stroke="#111"/>
<line x1="162.00" y1="1385.50" x2="199.00" y2="1385.50" stroke-width="1.0" stroke="#111"/>
<line x1="162.00" y1="1406.00" x2="199.00" y2="1406.00" stroke-width="1.0" stroke="#111"/>
<polygon points="162.00,1385.50 158.60,1368.50 165.40,1368.50" fill="#000" stroke="none"/>
<polygon points="162.00,1406.00 165.40,1423.00 158.60,1423.00" fill="#000" stroke="none"/>
<ellipse cx="146.90" cy="1461.40" rx="31.80" ry="31.80" stroke-width="2.2" fill="none" />
<ellipse cx="146.90" cy="1461.40" rx="29.30" ry="29.30" stroke-width="1.0" fill="none" />
<ellipse cx="307.50" cy="1461.40" rx="31.80" ry="31.80" stroke-width="2.2" fill="none" />
<ellipse cx="307.50" cy="1461.40" rx="29.30" ry="29.30" stroke-width="1.0" fill="none" />
<path d="M135.3,1441.2 L319.5,1441.2 Q328.6,1450 328.6,1461.6 Q328.6,1473 319.5,1482.1 L135.3,1482.1 Q126.2,1473 126.2,1461.6 Q126.2,1450 135.3,1441.2 Z" stroke-width="2.0" fill="#fff" />
<line x1="191.70" y1="1441.20" x2="191.70" y2="1482.10" stroke-width="1.95" />
<line x1="262.20" y1="1441.20" x2="262.20" y2="1482.10" stroke-width="1.95" />
<path d="M193.3,1442.6 Q202,1449 207.2,1452" stroke-width="1.59" fill="none" />
<path d="M261.1,1442.6 Q252.4,1449 247.1,1452" stroke-width="1.59" fill="none" />
<path d="M193.3,1481.2 Q200,1474.5 207.2,1473.3" stroke-width="1.59" fill="none" />
<path d="M261.1,1481.2 Q254.4,1474.5 247.1,1473.3" stroke-width="1.59" fill="none" />
<path d="M208.8,1442.4 Q214.5,1447.5 220.5,1442.8" stroke-width="1.1" fill="none" />
<path d="M245.6,1442.4 Q239.9,1447.5 233.9,1442.8" stroke-width="1.1" fill="none" />
<path d="M207.2,1573 L207.2,1462 C207.2,1447 215,1441.7 227.2,1441.7 C239.4,1441.7 247.1,1447 247.1,1462 L247.1,1573 Q227.2,1579.5 207.2,1573 Z" stroke-width="2.0" fill="#fff" />
<line x1="207.20" y1="1480.50" x2="247.10" y2="1480.50" stroke-width="1.95" />
<line x1="207.20" y1="1494.20" x2="247.10" y2="1494.20" stroke-width="1.95" />
<line x1="133.20" y1="1461.40" x2="161.40" y2="1461.40" stroke-width="1.0" stroke="#111"/>
<line x1="146.90" y1="1447.30" x2="146.90" y2="1476.00" stroke-width="1.0" stroke="#111"/>
<line x1="293.80" y1="1461.40" x2="322.00" y2="1461.40" stroke-width="1.0" stroke="#111"/>
<line x1="307.50" y1="1447.30" x2="307.50" y2="1476.00" stroke-width="1.0" stroke="#111"/>
<line x1="146.90" y1="1476.00" x2="146.90" y2="1620.50" stroke-width="1.0" stroke="#111"/>
<line x1="307.50" y1="1476.00" x2="307.50" y2="1620.50" stroke-width="1.0" stroke="#111"/>
<line x1="125.80" y1="1470.00" x2="125.80" y2="1669.90" stroke-width="1.0" stroke="#111"/>
<line x1="328.20" y1="1470.00" x2="328.20" y2="1669.90" stroke-width="1.0" stroke="#111"/>
<line x1="146.90" y1="1615.00" x2="307.50" y2="1615.00" stroke-width="1.0" stroke="#111"/>
<polygon points="146.90,1615.00 165.20,1611.60 165.20,1618.40" fill="#000" stroke="none"/>
<polygon points="307.50,1615.00 289.20,1618.40 289.20,1611.60" fill="#000" stroke="none"/>
<line x1="125.80" y1="1664.20" x2="328.20" y2="1664.20" stroke-width="1.0" stroke="#111"/>
<polygon points="125.80,1664.20 144.10,1660.80 144.10,1667.60" fill="#000" stroke="none"/>
<polygon points="328.20,1664.20 309.90,1667.60 309.90,1660.80" fill="#000" stroke="none"/>
<line x1="227.20" y1="168.00" x2="227.20" y2="1366.00" stroke-width="1.3" stroke="#222" stroke-dasharray="24.5 8.2 7.9 8.3"/>
<line x1="671.30" y1="123.30" x2="1202.60" y2="123.30" stroke-width="1.0" stroke="#111"/>
<line x1="671.30" y1="117.40" x2="671.30" y2="248.70" stroke-width="1.0" stroke="#111"/>
<line x1="1202.60" y1="117.40" x2="1202.60" y2="286.00" stroke-width="1.0" stroke="#111"/>
<polygon points="671.30,123.30 689.60,119.90 689.60,126.70" fill="#000" stroke="none"/>
<polygon points="1202.60,123.30 1184.30,126.70 1184.30,119.90" fill="#000" stroke="none"/>
<path d="M671.3,248.7 A64,64 0 0 1 735.4,184 L996.9,184 A64,64 0 0 1 1059.1,231.6 L1067.6,260" stroke-width="2.07" fill="none" />
<path d="M693.8,248.7 A41.7,41.7 0 0 1 735.4,206.8 L996.9,206.8 A43,43 0 0 1 1038,236.5 L1044.6,264.3" stroke-width="2.07" fill="none" />
<line x1="735.40" y1="184.00" x2="735.40" y2="206.80" stroke-width="1.83" />
<line x1="996.90" y1="184.00" x2="996.90" y2="206.80" stroke-width="1.83" />
<line x1="671.30" y1="248.70" x2="693.80" y2="248.70" stroke-width="1.83" />
<line x1="1038.00" y1="236.50" x2="1059.10" y2="231.60" stroke-width="1.83" />
<polygon points="1043.40,266.70 1069.40,260.00 1073.60,276.40 1046.40,283.00" stroke-width="3.4" fill="#fff" />
<line x1="1057.00" y1="263.50" x2="1060.00" y2="280.00" stroke-width="1.0" />
<line x1="1055.30" y1="264.00" x2="1058.30" y2="280.50" stroke-width="1.0" />
<polyline points="1051.30,289.30 1049.00,283.00 1072.50,277.00 1074.00,283.50" stroke-width="1.59" fill="none" />
<line x1="1051.00" y1="286.00" x2="1073.50" y2="280.20" stroke-width="1.0" />
<path d="M1038.7,313.5 Q1040.5,308 1040.1,293.7 L1085.1,282.1 Q1089,292 1094.3,298" stroke-width="2.07" fill="#fff" />
<line x1="1040.10" y1="293.70" x2="1085.10" y2="282.10" stroke-width="2.4" />
<line x1="1042.60" y1="307.20" x2="1090.00" y2="294.70" stroke-width="1.71" />
<path d="M938.6,345.3 Q1064,300.5 1198.4,275.9 L1201.9,286.2 L941.4,356.3 Z" stroke-width="1.9" fill="#fff" />
<path d="M939.3,348.6 Q1065,303.8 1199.3,279.3" stroke-width="1.0" fill="none" />
<path d="M939.6,349.9 Q1065,305.3 1199.6,280.6" stroke-width="0.8" fill="none" stroke="#444"/>
<line x1="671.10" y1="248.70" x2="671.10" y2="576.50" stroke-width="1.95" />
<line x1="694.10" y1="248.70" x2="694.10" y2="576.50" stroke-width="1.95" />
<line x1="509.00" y1="183.90" x2="735.40" y2="183.90" stroke-width="1.0" stroke="#111"/>
<line x1="514.80" y1="183.90" x2="514.80" y2="1461.70" stroke-width="1.0" stroke="#111"/>
<polygon points="514.80,183.90 518.20,202.20 511.40,202.20" fill="#000" stroke="none"/>
<polygon points="514.80,609.50 511.40,591.20 518.20,591.20" fill="#000" stroke="none"/>
<polygon points="514.80,609.50 518.20,627.80 511.40,627.80" fill="#000" stroke="none"/>
<polygon points="514.80,1461.70 511.40,1443.40 518.20,1443.40" fill="#000" stroke="none"/>
<line x1="509.20" y1="1461.70" x2="650.20" y2="1461.70" stroke-width="1.0" stroke="#111"/>
<line x1="526.20" y1="522.30" x2="682.30" y2="522.30" stroke-width="1.0" stroke="#111"/>
<line x1="610.40" y1="516.70" x2="610.40" y2="577.40" stroke-width="1.0" stroke="#111"/>
<polygon points="610.40,522.30 628.70,518.90 628.70,525.70" fill="#000" stroke="none"/>
<polygon points="682.30,522.30 664.00,525.70 664.00,518.90" fill="#000" stroke="none"/>
<rect x="610.40" y="577.40" width="12.80" height="63.90" rx="0" stroke-width="2.07" fill="none"/>
<line x1="581.70" y1="577.40" x2="610.40" y2="577.40" stroke-width="1.0" stroke="#111"/>
<line x1="581.70" y1="641.30" x2="610.40" y2="641.30" stroke-width="1.0" stroke="#111"/>
<line x1="587.60" y1="556.50" x2="587.60" y2="754.50" stroke-width="1.0" stroke="#111"/>
<polygon points="587.60,577.40 584.20,559.10 591.00,559.10" fill="#000" stroke="none"/>
<polygon points="587.60,641.30 591.00,659.60 584.20,659.60" fill="#000" stroke="none"/>
<rect x="667.80" y="576.50" width="29.70" height="77.50" rx="0" stroke-width="2.07" fill="none"/>
<rect x="624.70" y="595.20" width="23.00" height="28.90" rx="0" stroke-width="1.95" fill="none"/>
<path d="M647.7,598.4 L667.6,598.4 Q673.2,609.2 667.6,620 L647.7,620" stroke-width="1.95" fill="#fff" />
<line x1="667.80" y1="576.50" x2="697.50" y2="576.50" stroke-width="2.2" />
<line x1="509.40" y1="609.50" x2="658.20" y2="609.50" stroke-width="1.0" stroke="#111"/>
<polyline points="686.90,691.90 722.70,580.40 737.30,585.20 699.50,695.80" stroke-width="2.0" fill="none" />
<line x1="722.70" y1="580.40" x2="697.50" y2="626.00" stroke-width="1.46" />
<path d="M700.5,697.7 C706,704 711.5,712 709.4,719.5 C707.5,726.5 699.5,728.5 697.4,722 C695.8,716 697,706 700.5,697.7 Z" stroke-width="2.2" fill="none" />
<line x1="695.80" y1="695.60" x2="700.50" y2="697.40" stroke-width="1.0" />
<line x1="670.00" y1="654.00" x2="670.00" y2="1351.60" stroke-width="1.9" />
<line x1="695.60" y1="654.00" x2="695.60" y2="1351.60" stroke-width="1.9" />
<path d="M669.8,712 Q668,770 668.4,846" stroke-width="2.4" fill="none" />
<path d="M695.6,706 Q697.8,780 697.3,846" stroke-width="2.4" fill="none" />
<rect x="674.80" y="848.90" width="15.60" height="7.90" rx="0" stroke-width="1.95" fill="none"/>
<ellipse cx="682.80" cy="877.10" rx="19.60" ry="19.60" stroke-width="3.0" fill="#fff" />
<line x1="682.80" y1="863.00" x2="682.80" y2="887.00" stroke-width="1.0" />
<rect x="666.40" y="1351.60" width="32.50" height="17.90" rx="0" stroke-width="2.07" fill="none"/>
<line x1="666.40" y1="1369.00" x2="698.90" y2="1369.00" stroke-width="2.4" />
<rect x="677.70" y="1351.60" width="10.30" height="6.90" rx="0" stroke-width="1.46" fill="none"/>
<rect x="667.40" y="1369.50" width="30.80" height="53.40" rx="0" stroke-width="2.07" fill="none"/>
<ellipse cx="682.90" cy="1395.90" rx="12.00" ry="14.70" stroke-width="1.0" fill="none" />
<ellipse cx="682.90" cy="1395.90" rx="8.90" ry="8.90" stroke-width="2.2" fill="none" />
<line x1="668.00" y1="1395.90" x2="697.00" y2="1395.90" stroke-width="1.0" stroke="#111"/>
<line x1="682.90" y1="1383.00" x2="682.90" y2="1409.00" stroke-width="1.0" stroke="#111"/>
<rect x="666.70" y="1422.90" width="31.50" height="16.40" rx="0" stroke-width="2.07" fill="none"/>
<line x1="666.70" y1="1423.30" x2="698.20" y2="1423.30" stroke-width="2.2" />
<rect x="683.80" y="1422.90" width="7.60" height="10.90" rx="0" stroke-width="1.46" fill="none"/>
<rect x="620.10" y="1429.70" width="21.30" height="63.70" rx="0" stroke-width="2.07" fill="none"/>
<rect x="597.50" y="1450.30" width="19.20" height="22.60" rx="1.5" stroke-width="2.07" fill="none"/>
<rect x="616.70" y="1452.00" width="3.40" height="19.00" rx="0" stroke-width="1.0" fill="none"/>
<line x1="590.00" y1="1461.60" x2="651.00" y2="1461.60" stroke-width="1.0" stroke="#111"/>
<path d="M642.3,1446 Q642.3,1443.7 645,1443.7 L654,1443.7 Q656.8,1443.7 657.3,1447 Q658.3,1461.8 657.3,1477 Q656.8,1480 654,1480 L645,1480 Q642.3,1480 642.3,1477.5 Z" stroke-width="2.2" fill="#fff" />
<line x1="642.30" y1="1453.00" x2="657.50" y2="1453.00" stroke-width="1.95" />
<line x1="642.30" y1="1471.10" x2="657.50" y2="1471.10" stroke-width="1.95" />
<line x1="658.20" y1="1449.00" x2="658.20" y2="1475.00" stroke-width="2.2" />
<path d="M659,1447.5 L666,1446.5 Q660.5,1461.8 666,1477 L659,1476" stroke-width="1.46" fill="none" />
<path d="M661.8,1449 Q659,1461.8 661.8,1474.5" stroke-width="1.0" fill="none" />
<path d="M671.7,1441.3 Q661,1450 664.8,1461.6 Q666,1474 671.7,1482.4" stroke-width="2.0" fill="none" />
<line x1="671.70" y1="1441.30" x2="679.00" y2="1441.30" stroke-width="2.2" />
<line x1="671.70" y1="1482.40" x2="679.00" y2="1482.40" stroke-width="2.2" />
<rect x="678.90" y="1441.30" width="43.50" height="41.10" rx="0" stroke-width="1.9" fill="none"/>
<line x1="678.90" y1="1441.30" x2="678.90" y2="1482.40" stroke-width="2.6" />
<line x1="695.40" y1="1441.30" x2="695.40" y2="1482.40" stroke-width="1.71" />
<path d="M680.9,1443.7 Q682,1451 691,1451 L722.4,1451" stroke-width="1.9" fill="none" />
<path d="M680.9,1480.5 Q682,1472.3 691,1472.3 L722.4,1472.3" stroke-width="1.9" fill="none" />
<path d="M681.7,1442.9 Q688,1449.5 694.6,1442.9" stroke-width="1.46" fill="none" />
<path d="M681.7,1481 Q688,1474.5 694.6,1481" stroke-width="1.46" fill="none" />
<line x1="723.80" y1="1441.30" x2="723.80" y2="1482.40" stroke-width="2.4" />
<path d="M726.5,1440.5 L739,1440.5 L739,1484.5 L750.6,1575.5 L744.2,1576" stroke-width="1.9" fill="none" />
<line x1="723.80" y1="1451.20" x2="739.00" y2="1451.20" stroke-width="1.9" />
<line x1="727.00" y1="1441.00" x2="724.60" y2="1470.00" stroke-width="1.46" />
<path d="M724.2,1472.4 Q734.5,1472.4 735,1484 L745.8,1576" stroke-width="1.9" fill="none" />
<path d="M724.2,1482.5 Q732,1483 733.2,1490 L744,1576" stroke-width="1.9" fill="none" />
<line x1="554.30" y1="1410.30" x2="554.30" y2="1599.80" stroke-width="1.0" stroke="#111"/>
<line x1="548.20" y1="1430.10" x2="619.70" y2="1430.10" stroke-width="1.0" stroke="#111"/>
<line x1="548.20" y1="1493.70" x2="619.70" y2="1493.70" stroke-width="1.0" stroke="#111"/>
<polygon points="554.30,1430.10 550.90,1411.80 557.70,1411.80" fill="#000" stroke="none"/>
<polygon points="554.30,1493.70 557.70,1512.00 550.90,1512.00" fill="#000" stroke="none"/>
<line x1="583.60" y1="1430.60" x2="583.60" y2="1580.60" stroke-width="1.0" stroke="#111"/>
<line x1="578.00" y1="1450.40" x2="597.20" y2="1450.40" stroke-width="1.0" stroke="#111"/>
<line x1="578.00" y1="1473.00" x2="597.20" y2="1473.00" stroke-width="1.0" stroke="#111"/>
<polygon points="583.60,1450.40 580.20,1433.40 587.00,1433.40" fill="#000" stroke="none"/>
<polygon points="583.60,1473.00 587.00,1490.00 580.20,1490.00" fill="#000" stroke="none"/>
<line x1="619.70" y1="1493.70" x2="619.70" y2="1634.80" stroke-width="1.0" stroke="#111"/>
<line x1="750.60" y1="1578.00" x2="750.60" y2="1634.80" stroke-width="1.0" stroke="#111"/>
<line x1="619.70" y1="1629.60" x2="750.60" y2="1629.60" stroke-width="1.0" stroke="#111"/>
<polygon points="619.70,1629.60 638.00,1626.20 638.00,1633.00" fill="#000" stroke="none"/>
<polygon points="750.60,1629.60 732.30,1633.00 732.30,1626.20" fill="#000" stroke="none"/>
<line x1="682.70" y1="192.50" x2="682.70" y2="1366.00" stroke-width="1.3" stroke="#222" stroke-dasharray="24.6 7.5 8.2 7.6"/>
<ellipse cx="197.80" cy="128.00" rx="7.5" ry="7.5" stroke-width="1.05" fill="none"/>
<line x1="191.20" y1="139.40" x2="203.90" y2="116.90" stroke-width="1.05"/>
<text transform="translate(209.92,135.00) scale(0.9331,1)" font-size="22.19">255</text>
<text transform="translate(241.71,135.00) scale(0.6464,1)" font-size="22.19">mm</text>
<ellipse cx="120.50" cy="406.70" rx="7.5" ry="7.5" stroke-width="1.05" fill="none"/>
<line x1="113.90" y1="418.10" x2="126.60" y2="395.60" stroke-width="1.05"/>
<text transform="translate(133.10,413.80) scale(0.9546,1)" font-size="22.19">21.</text>
<text transform="translate(165.14,413.80) scale(0.9172,1)" font-size="22.19">6</text>
<text transform="translate(175.61,413.80) scale(0.6464,1)" font-size="22.19">mm</text>
<ellipse cx="254.00" cy="536.70" rx="7.5" ry="7.5" stroke-width="1.05" fill="none"/>
<line x1="247.40" y1="548.10" x2="260.10" y2="525.60" stroke-width="1.05"/>
<text transform="translate(266.12,543.80) scale(0.9663,1)" font-size="22.19">131</text>
<text transform="translate(298.73,543.80) scale(0.6108,1)" font-size="22.19">mm</text>
<text transform="translate(348.69,1148.90) scale(0.9855,1)" font-size="22.19">1500</text>
<text transform="translate(392.22,1148.90) scale(0.6227,1)" font-size="22.19">mm</text>
<ellipse cx="141.90" cy="1279.50" rx="7.5" ry="7.5" stroke-width="1.05" fill="none"/>
<line x1="135.30" y1="1290.90" x2="148.00" y2="1268.40" stroke-width="1.05"/>
<text transform="translate(153.86,1286.70) scale(0.9994,1)" font-size="22.19">24</text>
<text transform="translate(175.73,1286.70) scale(0.6138,1)" font-size="22.19">mm</text>
<text transform="translate(199.77,1611.00) scale(0.9931,1)" font-size="22.19">150</text>
<text transform="translate(232.72,1611.00) scale(0.6256,1)" font-size="22.19">mm</text>
<text transform="translate(199.77,1659.80) scale(0.9931,1)" font-size="22.19">190</text>
<text transform="translate(232.72,1659.80) scale(0.6256,1)" font-size="22.19">mm</text>
<text transform="translate(909.55,119.70) scale(0.9816,1)" font-size="22.19">500</text>
<text transform="translate(942.12,119.70) scale(0.6315,1)" font-size="22.19">mm</text>
<text transform="translate(525.98,519.00) scale(0.9748,1)" font-size="22.19">68</text>
<line x1="548.60" y1="511.20" x2="557.70" y2="511.20" stroke-width="1.0"/>
<text transform="translate(559.08,519.00) scale(0.9891,1)" font-size="22.19">80</text>
<text transform="translate(581.03,519.00) scale(0.6019,1)" font-size="22.19">mm</text>
<text transform="translate(658.00,1625.90) scale(0.9800,1)" font-size="22.19">123</text>
<text transform="translate(690.93,1625.90) scale(0.6108,1)" font-size="22.19">mm</text>
<g transform="translate(510.80,438.50) rotate(-90)">
<text transform="translate(-1.36,0.00) scale(0.9440,1)" font-size="22.19">75</text>
<line x1="20.00" y1="-6.30" x2="30.80" y2="-6.30" stroke-width="1.0"/>
<text transform="translate(31.17,0.00) scale(0.9733,1)" font-size="22.19">409</text>
<text transform="translate(63.63,0.00) scale(0.6078,1)" font-size="22.19">mm</text>
</g>
<g transform="translate(510.90,1062.20) rotate(-90)">
<text transform="translate(-0.82,0.00) scale(0.9798,1)" font-size="22.19">802</text>
<text transform="translate(32.33,0.00) scale(0.6108,1)" font-size="22.19">mm</text>
</g>
<g transform="translate(583.80,754.00) rotate(-90)">
<ellipse cx="5.90" cy="-7.10" rx="7.5" ry="7.5" stroke-width="1.05" fill="none"/>
<line x1="-0.70" y1="4.30" x2="12.00" y2="-18.20" stroke-width="1.05"/>
<text transform="translate(18.68,0.00) scale(0.9553,1)" font-size="22.19">59.</text>
<text transform="translate(51.65,0.00) scale(0.8235,1)" font-size="22.19">5</text>
<text transform="translate(61.82,0.00) scale(0.6404,1)" font-size="22.19">mm</text>
</g>
<g transform="translate(157.80,1424.40) rotate(-90)">
<text transform="translate(-0.72,0.00) scale(0.8110,1)" font-size="22.19">G1</text>
<line x1="23.6" y1="1.7" x2="32" y2="-16.6" stroke-width="1.0"/>
<text transform="translate(33.79,0.00) scale(0.9629,1)" font-size="22.19">2</text>
</g>
<g transform="translate(550.10,1599.70) rotate(-90)">
<text transform="translate(-0.89,0.00) scale(0.9406,1)" font-size="22.19">2</text>
<line x1="10.30" y1="-7.60" x2="20.10" y2="-7.60" stroke-width="1.0"/>
<ellipse cx="28.80" cy="-7.20" rx="7.5" ry="7.5" stroke-width="1.05" fill="none"/>
<line x1="22.20" y1="4.20" x2="34.90" y2="-18.30" stroke-width="1.05"/>
<text transform="translate(41.19,0.00) scale(0.8622,1)" font-size="22.19">60</text>
<text transform="translate(61.82,0.00) scale(0.6227,1)" font-size="22.19">mm</text>
</g>
<g transform="translate(579.90,1580.00) rotate(-90)">
<text transform="translate(-0.87,0.00) scale(0.9182,1)" font-size="22.19">2</text>
<line x1="10.40" y1="-6.90" x2="19.80" y2="-6.90" stroke-width="1.0"/>
<text transform="translate(20.33,0.00) scale(0.7588,1)" font-size="22.19">G1</text>
<line x1="43.3" y1="1.9" x2="51.8" y2="-16.7" stroke-width="1.0"/>
<text transform="translate(53.48,0.00) scale(0.8734,1)" font-size="22.19">2</text>
</g>
</svg></body></html>
